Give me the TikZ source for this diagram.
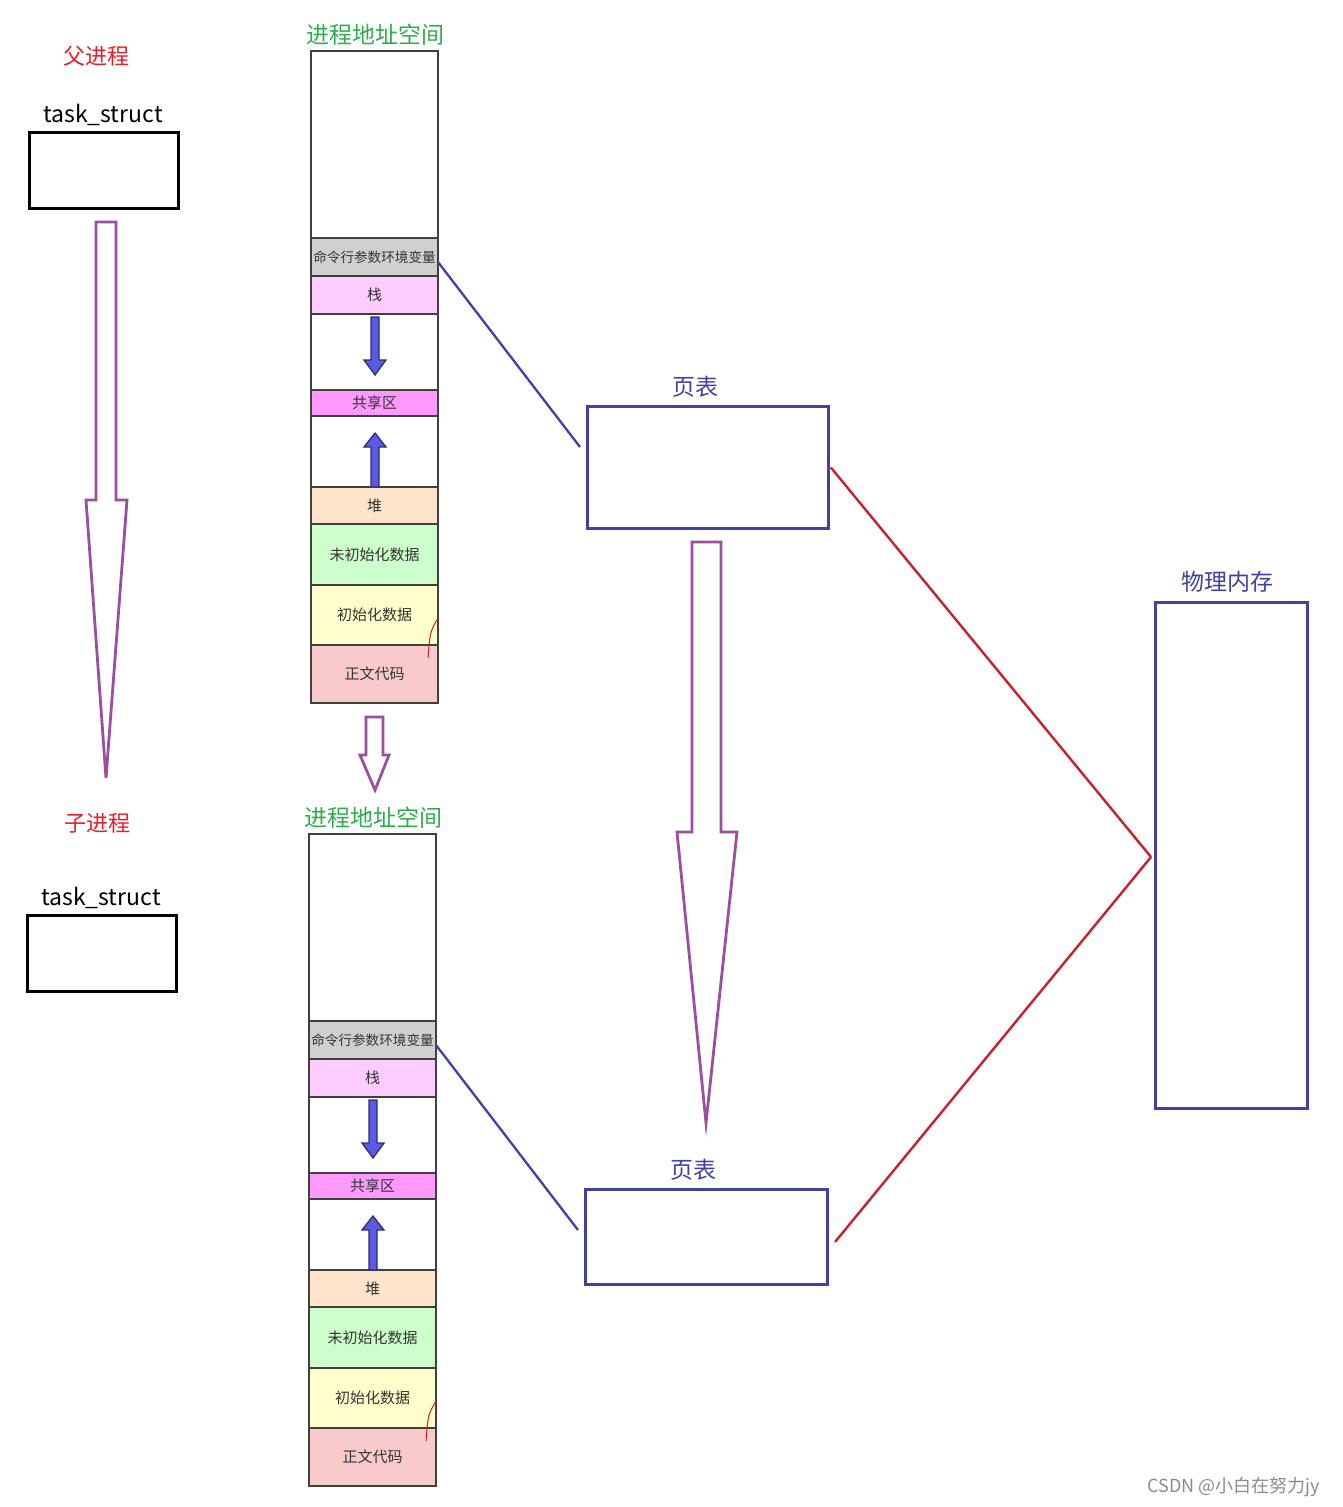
\documentclass[tikz,border=0pt]{standalone}
\usepackage{fontspec}
\setmainfont{Noto Sans CJK SC}
\definecolor{stk}{HTML}{404040}
\definecolor{cgray}{HTML}{D0D0D0}
\definecolor{cstack}{HTML}{FFCCFF}
\definecolor{cshare}{HTML}{FF99FF}
\definecolor{cheap}{HTML}{FDE4CA}
\definecolor{cbss}{HTML}{CCFFCC}
\definecolor{cdata}{HTML}{FFFFCC}
\definecolor{ctext}{HTML}{F8CACA}
\definecolor{tgreen}{HTML}{2EAE4A}
\definecolor{tred}{HTML}{E0202A}
\definecolor{pblue}{HTML}{4040A6}
\definecolor{purp}{HTML}{9B4F9F}
\definecolor{lred}{HTML}{C8202E}
\definecolor{afill}{HTML}{5A5AE6}
\definecolor{aline}{HTML}{303068}
\tikzset{
  seg/.style={draw=stk, line width=2.2pt, inner sep=0pt, outer sep=0pt, anchor=north west,
    minimum width=127pt, font=\fontsize{15}{15}\selectfont, text=black!80},
  tbox/.style={draw=black, line width=2.8pt, inner sep=0pt, anchor=north west,
    minimum width=149pt, minimum height=76pt},
  pbox/.style={draw=pblue, line width=2.8pt, inner sep=0pt, anchor=north west},
  bigtxt/.style={font=\fontsize{22}{22}\selectfont, inner sep=0pt},
  hollow/.style={draw=purp, line width=2.8pt, fill=white, line join=miter},
  smarrow/.style={draw=aline, fill=afill, line width=1.3pt},
  bline/.style={draw=pblue, line width=2.3pt},
  rline/.style={draw=lred, line width=2.4pt},
}
\begin{document}
\begin{tikzpicture}[x=1pt,y=-1pt]
\path[use as bounding box, fill=white] (0,0) rectangle (1342,1507);

% parent / child
\node[bigtxt, text=tred] (parent) at (96,56) {父进程};
\node[bigtxt, anchor=base, font=\fontsize{23}{23}\selectfont] (tsA) at (103,122) {task\_struct};
\node[tbox] (tbA) at (28,131) {};
\node[bigtxt, text=tred] (child) at (97,823) {子进程};
\node[bigtxt, anchor=base, font=\fontsize{23}{23}\selectfont] (tsB) at (101,905) {task\_struct};
\node[tbox] (tbB) at (26,914) {};

% big hollow arrows
\path[hollow] (96,222)--(116,222)--(116,500)--(127,500)--(106,778)--(86,500)--(96,500)--cycle;
\path[hollow] (366,717)--(383,717)--(383,755)--(389,755)--(375,790)--(360,755)--(366,755)--cycle;
\path[hollow] (692,542)--(721,542)--(721,832)--(737,832)--(706,1123)--(677,832)--(692,832)--cycle;

% address spaces
\foreach \p/\dx/\dy in {A/0/0, B/-2/783}{
\begin{scope}[shift={(\dx,\dy)}]
  \node[bigtxt, text=tgreen, font=\fontsize{23}{23}\selectfont] (\p title) at (375,35) {进程地址空间};
  \node[seg, fill=white, minimum height=187pt] (\p free) at (311,51) {};
  \node[seg, fill=cgray, minimum height=38pt, font=\fontsize{13.6}{14}\selectfont, text width=127pt, align=center] (\p env) at (311,238) {\raisebox{-2pt}{命令行参数环境变量}};
  \node[seg, fill=cstack, minimum height=38pt] (\p stack) at (311,276) {\raisebox{-2pt}{栈}};
  \node[seg, fill=white, minimum height=76pt] (\p gapa) at (311,314) {};
  \node[seg, fill=cshare, minimum height=26pt] (\p share) at (311,390) {共享区};
  \node[seg, fill=white, minimum height=71pt] (\p gapb) at (311,416) {};
  \node[seg, fill=cheap, minimum height=37pt] (\p heap) at (311,487) {\raisebox{-2pt}{堆}};
  \node[seg, fill=cbss, minimum height=61pt] (\p bss) at (311,524) {\raisebox{-2pt}{未初始化数据}};
  \node[seg, fill=cdata, minimum height=60pt] (\p data) at (311,585) {\raisebox{-1pt}{初始化数据}};
  \node[seg, fill=ctext, minimum height=58pt] (\p text) at (311,645) {\raisebox{-2pt}{正文代码}};
  \path[smarrow] (371,317)--(379,317)--(379,360)--(386,360)--(375,375)--(364,360)--(371,360)--cycle;
  \path[smarrow] (371,487)--(379,487)--(379,447)--(386,447)--(375,433)--(364,447)--(371,447)--cycle;
  \draw[lred, line width=1pt] (438,618) .. controls (430,632) .. (428,658);
\end{scope}
}

% page tables
\node[bigtxt, text=pblue, font=\fontsize{23}{23}\selectfont] (ptAl) at (695,387) {页表};
\node[pbox, minimum width=241pt, minimum height=122pt] (ptA) at (586,405) {};
\node[bigtxt, text=pblue, font=\fontsize{23}{23}\selectfont] (ptBl) at (693,1170) {页表};
\node[pbox, minimum width=242pt, minimum height=95pt] (ptB) at (584,1188) {};

% physical memory
\node[bigtxt, text=pblue, font=\fontsize{23}{23}\selectfont] (meml) at (1227,582) {物理内存};
\node[pbox, minimum width=152pt, minimum height=506pt] (mem) at (1154,601) {};

% connectors
\coordinate (ptAin) at (580,447);
\coordinate (ptBin) at (578,1230);
\coordinate (ptBout) at (835,1242);
\coordinate (memin) at (1151,857);
\draw[bline] ([yshift=-5pt]Aenv.east) -- (ptAin);
\draw[bline] ([yshift=-5pt]Benv.east) -- (ptBin);
\draw[rline] ([xshift=1pt]ptA.east) -- (memin);
\draw[rline] (ptBout) -- (memin);

% watermark
\node[text=black!45, font=\fontsize{18}{18}\selectfont, inner sep=0pt] (wm) at (1234,1487) {CSDN @小白在努力jy};
\end{tikzpicture}
\end{document}
